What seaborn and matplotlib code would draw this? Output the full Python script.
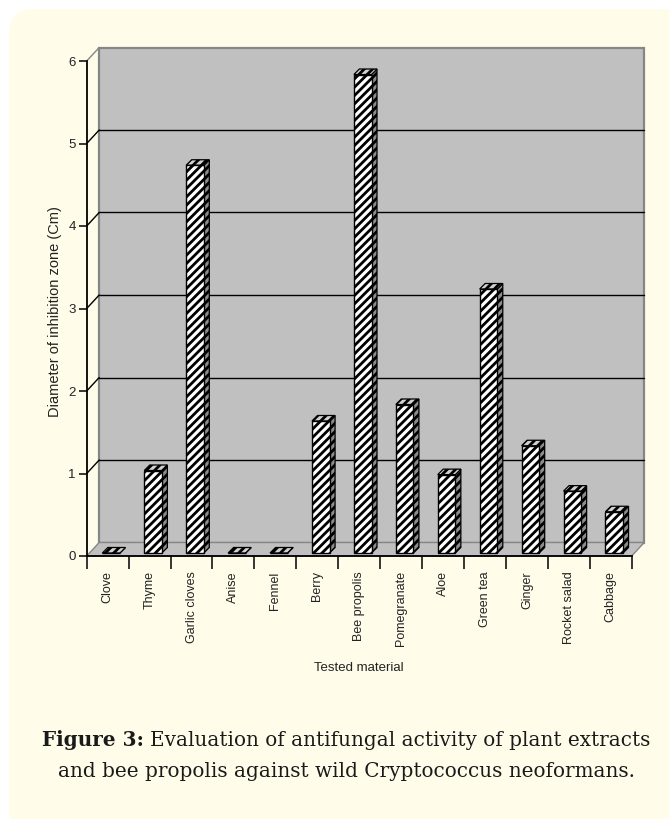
import matplotlib
matplotlib.use("Agg")
import matplotlib.pyplot as plt
import seaborn as sns
from matplotlib import font_manager
from matplotlib.patches import Polygon, Rectangle, FancyBboxPatch
from matplotlib.lines import Line2D
from matplotlib.transforms import IdentityTransform, offset_copy

# ---- data -------------------------------------------------------------
materials = ["Clove", "Thyme", "Garlic cloves", "Anise", "Fennel", "Berry",
             "Bee propolis", "Pomegranate", "Aloe", "Green tea", "Ginger",
             "Rocket salad", "Cabbage"]
diameters = [0.0, 1.0, 4.7, 0.0, 0.0, 1.6, 5.8, 1.8, 0.95, 3.2, 1.3, 0.75, 0.5]
y_ticks = [0, 1, 2, 3, 4, 5, 6]

x_title = "Tested material"
y_title = "Diameter of inhibition zone (Cm)"
caption_bold = "Figure 3:"
caption_line1 = "Evaluation of antifungal activity of plant extracts"
caption_line2 = "and bee propolis against wild Cryptococcus neoformans."

# ---- style ------------------------------------------------------------
sns.set_theme(style="ticks")
installed = {f.name for f in font_manager.fontManager.ttflist}
chart_font = "Liberation Sans Narrow" if "Liberation Sans Narrow" in installed else "Liberation Sans"
plt.rcParams["font.family"] = [chart_font, "DejaVu Sans"]
plt.rcParams["hatch.linewidth"] = 2.0
plt.rcParams["hatch.color"] = "black"
HATCH = "////"

W, H = 669, 819
fig = plt.figure(figsize=(W / 100, H / 100), dpi=100, facecolor="white")

# cream rounded panel behind everything
panel = FancyBboxPatch((9, -40), W + 40, H - 9 + 40,
                       boxstyle="round,pad=0,rounding_size=24",
                       transform=IdentityTransform(), facecolor="#fffcea",
                       edgecolor="none", zorder=-10)
fig.patches.append(panel)

# front plane of the 3-D chart
ax = fig.add_axes([86.7 / W, 1 - 556 / H, 545 / W, 495 / H])
ax.set_facecolor("none")

sns.barplot(x=materials, y=diameters, ax=ax, color="white", saturation=1,
            edgecolor="black", linewidth=1.0, width=0.42, hatch=HATCH,
            errorbar=None, zorder=3)
bars = list(ax.patches)

ax.set_xlim(-0.5, len(materials) - 0.5)
ax.set_ylim(0, 6)

# pixel -> data conversion for the depth offsets
o = ax.transData.transform((0, 0))
u = ax.transData.transform((1, 1)) - o
def depth(px, py):
    return px / u[0], py / u[1]

wx, wy = depth(12.5, 13.5)      # back wall
fx, fy = depth(3.5, 3.0)        # front face of the bars
bx, by = depth(9.0, 8.5)        # back face of the bars
x0, x1 = -0.5, len(materials) - 0.5

# back wall and floor
ax.add_patch(Rectangle((x0 + wx, wy), x1 - x0, 6, facecolor="#c0c0c0",
                       edgecolor="#868686", lw=1.6, zorder=0, clip_on=False))
ax.add_patch(Polygon([(x0, 0), (x1, 0), (x1 + wx, wy), (x0 + wx, wy)],
                     closed=True, facecolor="#c0c0c0", edgecolor="#868686",
                     lw=1.0, zorder=0.5, clip_on=False))

# grid lines on the back wall, joined to the front axis
for v in y_ticks[1:]:
    col = "#868686" if v == y_ticks[-1] else "black"
    if v != y_ticks[-1]:
        ax.add_line(Line2D([x0 + wx, x1 + wx], [v + wy, v + wy], color="black",
                           lw=1.0, zorder=1, clip_on=False))
    ax.add_line(Line2D([x0, x0 + wx], [v, v + wy], color=col, lw=1.0,
                       zorder=1, clip_on=False))

# bars: shift the front face, then add side and top faces
front_tr = offset_copy(ax.transData, fig=fig, x=3.5, y=3.0, units="dots")
for p in bars:
    p.set_transform(front_tr)
    p.set_clip_on(False)
    x, w, h = p.get_x(), p.get_width(), p.get_height()
    side = [(x + w + fx, fy), (x + w + bx, by), (x + w + bx, h + by), (x + w + fx, h + fy)]
    top = [(x + fx, h + fy), (x + w + fx, h + fy), (x + w + bx, h + by), (x + bx, h + by)]
    ax.add_patch(Polygon(side, closed=True, facecolor="#8c8c8c", edgecolor="black",
                         lw=0.9, hatch=HATCH, zorder=2.9, clip_on=False))
    ax.add_patch(Polygon(top, closed=True, facecolor="#d0d0d0", edgecolor="black",
                         lw=0.9, hatch=HATCH, zorder=2.9, clip_on=False))

# axes lines and ticks
sns.despine(ax=ax)
for s in ("left", "bottom"):
    ax.spines[s].set_color("black")
    ax.spines[s].set_linewidth(1.3)
    ax.spines[s].set_zorder(4)

ax.set_yticks(y_ticks)
ax.set_yticklabels([str(t) for t in y_ticks])
ax.tick_params(axis="y", which="major", direction="out", length=6, width=1.1,
               color="black", pad=2, labelsize=9.5, labelcolor="#222222", left=True)

ax.set_xticks(range(len(materials)))
ax.set_xticklabels(materials, rotation=90, va="top", ha="center")
ax.set_xticks([i - 0.5 for i in range(len(materials) + 1)], minor=True)
ax.tick_params(axis="x", which="major", length=0, pad=11, labelsize=9,
               labelcolor="#222222")
ax.tick_params(axis="x", which="minor", direction="out", length=9, width=1.1,
               color="black", bottom=True)
ax.set_xlabel("")
ax.set_ylabel("")

fig.text(359 / W, 1 - 668 / H, x_title, ha="center", va="center",
         fontsize=9.5, color="#222222")
fig.text(55 / W, 1 - 312 / H, y_title, ha="center", va="center",
         rotation=90, fontsize=10.5, color="#222222")

# ---- two-line caption, bold lead-in on the first line --------------------
renderer = fig.canvas.get_renderer()
cap_family = ["DejaVu Serif"]

def text_width(s, size, weight="normal"):
    t = fig.text(0, 0, s, fontsize=size, fontweight=weight, family=cap_family,
                 transform=IdentityTransform())
    wd = t.get_window_extent(renderer).width
    t.remove()
    return wd

base = 13.0
size = base * 574 / text_width(caption_line2, base)
space = 0.3 * size * 100 / 72
center_x = 346

wb = text_width(caption_bold, size, "bold")
wn = text_width(caption_line1, size)
start = center_x - (wb + space + wn) / 2
y1 = H - 746
y2 = H - 777
fig.text(start, y1, caption_bold, fontsize=size, fontweight="bold",
         family=cap_family, color="#1a1a1a", ha="left", va="baseline",
         transform=IdentityTransform())
fig.text(start + wb + space, y1, caption_line1, fontsize=size,
         family=cap_family, color="#1a1a1a", ha="left", va="baseline",
         transform=IdentityTransform())
fig.text(center_x, y2, caption_line2, fontsize=size, family=cap_family,
         color="#1a1a1a", ha="center", va="baseline",
         transform=IdentityTransform())

fig.savefig("out.png", dpi=100, facecolor=fig.get_facecolor())
